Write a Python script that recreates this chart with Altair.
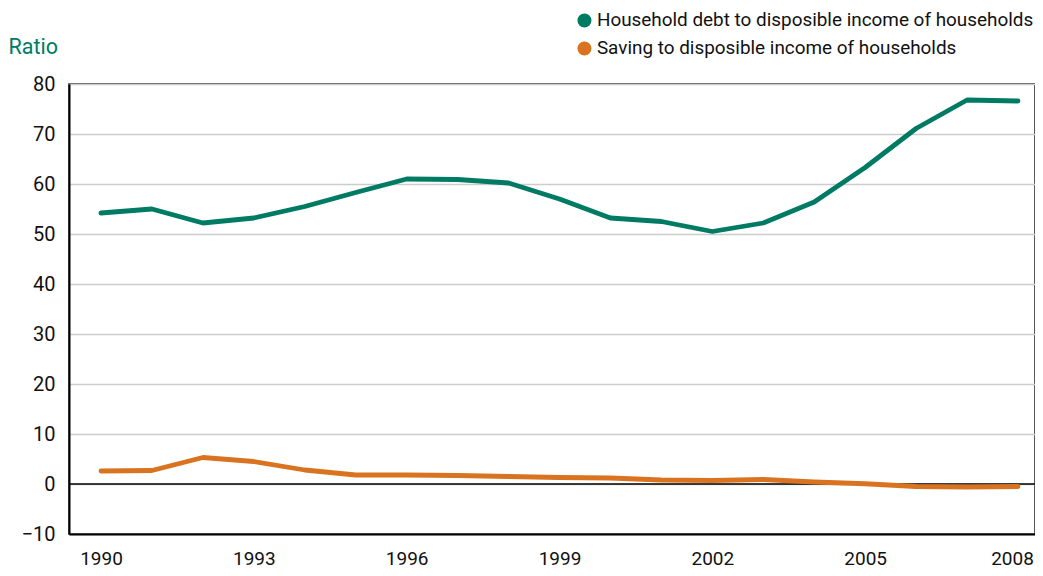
import altair as alt
import pandas as pd

years = list(range(1990, 2009))
debt = [54.2, 55.0, 52.2, 53.2, 55.5, 58.3, 61.0, 60.9, 60.2, 57.0,
        53.2, 52.5, 50.5, 52.2, 56.4, 63.3, 71.1, 76.8, 76.6]
saving = [2.6, 2.7, 5.3, 4.5, 2.8, 1.8, 1.8, 1.7, 1.5, 1.3,
          1.2, 0.8, 0.7, 0.9, 0.4, 0.05, -0.5, -0.6, -0.5]
series_names = ["Household debt to disposible income of households",
                "Saving to disposible income of households"]
series_colors = ["#007B63", "#D9731F"]
x_ticks = [1990, 1993, 1996, 1999, 2002, 2005, 2008]
y_ticks = [-10, 0, 10, 20, 30, 40, 50, 60, 70, 80]

rows = []
for y, d, s in zip(years, debt, saving):
    rows.append({"year": y, "value": d, "series": series_names[0]})
    rows.append({"year": y, "value": s, "series": series_names[1]})
df = pd.DataFrame(rows)

FONT = "Roboto, sans-serif"

xscale = alt.Scale(domain=[1989.372, 2008.334], nice=False, zero=False)
yscale = alt.Scale(domain=[-10, 80], nice=False, zero=False)

lines = alt.Chart(df).mark_line(strokeWidth=4.8, strokeCap="round", strokeJoin="round").encode(
    x=alt.X("year:Q", scale=xscale,
            axis=alt.Axis(values=x_ticks, format="d", title=None, grid=False, ticks=False,
                          domainColor="#000", domainWidth=2, labelFontSize=19,
                          labelPadding=15, labelColor="#111", labelFont=FONT,
                          labelOffset=alt.ExprRef("datum.value == 2008 ? -6 : 0"))),
    y=alt.Y("value:Q", scale=yscale,
            axis=alt.Axis(values=y_ticks, format="d", title="Ratio", titleAngle=0,
                          titleAlign="left", titleBaseline="middle", titleX=-61, titleY=-37,
                          titleColor="#007B63", titleFontSize=21.5, titleFontWeight="normal",
                          titleFont=FONT,
                          grid=True, gridColor="#cccccc", gridWidth=1.5, ticks=False,
                          domainColor="#000", domainWidth=2, labelFontSize=20,
                          labelPadding=14, labelColor="#111", labelFont=FONT)),
    color=alt.Color("series:N",
                    scale=alt.Scale(domain=series_names, range=series_colors),
                    sort=series_names,
                    legend=alt.Legend(title=None, orient="none", legendX=506, legendY=-73,
                                      symbolType="circle", symbolSize=49, symbolStrokeWidth=7,
                                      labelFontSize=18.9, labelFont=FONT, labelColor="#111",
                                      labelLimit=600, rowPadding=-8, labelOffset=3)),
)

zero = alt.Chart(pd.DataFrame({"z": [0]})).mark_rule(color="#000", strokeWidth=1.5).encode(
    y=alt.Y("z:Q", scale=yscale)
)

chart = alt.layer(zero, lines).properties(
    width=966, height=450,
    autosize=alt.AutoSizeParams(type="none"),
    padding={"left": 61, "top": 76, "right": 0, "bottom": 34},
).configure_view(stroke="#222", strokeWidth=1.5)

chart.save("out.html", embed_options={"renderer": "svg", "actions": False})
